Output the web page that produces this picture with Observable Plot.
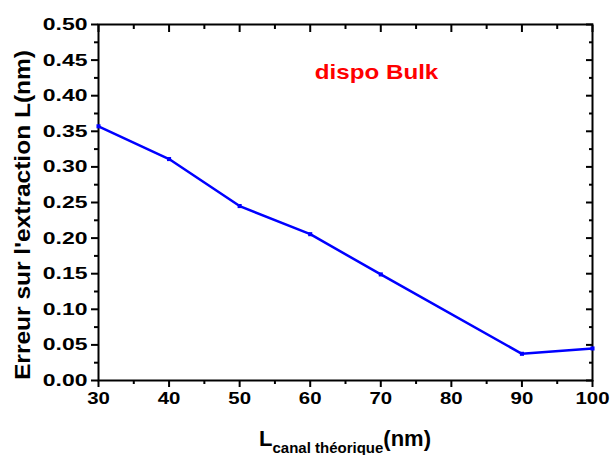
<!DOCTYPE html>
<html><head><meta charset="utf-8">
<script src="https://cdn.jsdelivr.net/npm/d3@7"></script>
<script src="https://cdn.jsdelivr.net/npm/@observablehq/plot@0.6"></script>
<style>
body{margin:0;background:#fff}
svg{display:block}
</style>
</head><body><div id="chart"></div>
<script>
// Data
const canal = [30, 40, 50, 60, 70, 90, 100];             // L canal théorique (nm)
const erreur = [0.357, 0.311, 0.245, 0.2055, 0.149, 0.0375, 0.045]; // erreur (nm)
const xMajor = [30, 40, 50, 60, 70, 80, 90, 100];
const xMinor = [35, 45, 55, 65, 75, 85, 95];
const yMajor = [0, 0.05, 0.10, 0.15, 0.20, 0.25, 0.30, 0.35, 0.40, 0.45, 0.50];
const yMinor = [0.025, 0.075, 0.125, 0.175, 0.225, 0.275, 0.325, 0.375, 0.425, 0.475];
const annotation = [{x: 69.4, y: 0.433, label: "dispo Bulk"}];
const yTitle = "Erreur sur l'extraction L(nm)";
const xTitleMain = "L", xTitleSub = "canal théorique", xTitleUnit = "(nm)";

const data = canal.map((x, i) => ({x, y: erreur[i]}));
const FONT = "'Liberation Sans', Arial, sans-serif";

const common = {label: null, strokeWidth: 2};
const svg = Plot.plot({
  width: 612, height: 455,
  marginLeft: 98, marginRight: 20, marginTop: 24, marginBottom: 75,
  style: {fontFamily: FONT, fontWeight: "bold", color: "black", background: "white", overflow: "visible"},
  x: {domain: [30, 100]},
  y: {domain: [0, 0.5]},
  marks: [
    // bottom axis (outward)
    Plot.axisX(xMajor, {...common, anchor: "bottom", tickSize: 7, tickPadding: 4, fontSize: 17, tickFormat: d => String(d)}),
    Plot.axisX(xMinor, {...common, anchor: "bottom", tickSize: 4, fill: "none"}),
    // top mirror (inward)
    Plot.axisX(xMajor, {...common, anchor: "top", tickSize: 7, dy: 7, fill: "none"}),
    Plot.axisX(xMinor, {...common, anchor: "top", tickSize: 4, dy: 4, fill: "none"}),
    // left axis (outward)
    Plot.axisY(yMajor, {...common, anchor: "left", tickSize: 7, tickPadding: 4, fontSize: 17, tickFormat: d => d.toFixed(2)}),
    Plot.axisY(yMinor, {...common, anchor: "left", tickSize: 4, fill: "none"}),
    // right mirror (inward)
    Plot.axisY(yMajor, {...common, anchor: "right", tickSize: 7, dx: -7, fill: "none"}),
    Plot.axisY(yMinor, {...common, anchor: "right", tickSize: 4, dx: -4, fill: "none"}),
    Plot.frame({stroke: "black", strokeWidth: 2}),
    Plot.line(data, {x: "x", y: "y", stroke: "#0000ff", strokeWidth: 2.5}),
    Plot.dot(data, {x: "x", y: "y", symbol: "square", fill: "#0000ff", r: 2.3}),
    Plot.text(annotation, {x: "x", y: "y", text: "label", fill: "#ff0000", fontSize: 21, fontWeight: "bold", textAnchor: "middle"})
  ]
});
document.getElementById("chart").appendChild(svg);

const s = d3.select(svg);
// Y title
s.append("text")
  .attr("class", "ytitle")
  .attr("transform", "translate(23,215) rotate(-90)")
  .attr("text-anchor", "middle")
  .attr("dominant-baseline", "central")
  .attr("font-family", FONT).attr("font-weight", "bold").attr("font-size", 21.5)
  .attr("fill", "black")
  .text(yTitle);
// X title with subscript
const xt = s.append("text")
  .attr("x", 345).attr("y", 446)
  .attr("text-anchor", "middle")
  .attr("font-family", FONT).attr("font-weight", "bold")
  .attr("fill", "black");
xt.append("tspan").attr("font-size", 22).text(xTitleMain);
xt.append("tspan").attr("font-size", 15).attr("dy", 7).text(xTitleSub);
xt.append("tspan").attr("font-size", 22).attr("dy", -7).text(xTitleUnit);

// Reproduce the wide glyphs of the original
function stretch(sel, f) {
  sel.each(function() {
    const L = this.getComputedTextLength();
    if (L > 0) { this.setAttribute("textLength", L * f); this.setAttribute("lengthAdjust", "spacingAndGlyphs"); }
  });
}
stretch(s.selectAll("g[aria-label='y-axis tick label'] text"), 1.35);
stretch(s.selectAll("g[aria-label='x-axis tick label'] text"), 1.2);
stretch(s.selectAll("g[aria-label='text'] text"), 1.15);
stretch(s.selectAll("text.ytitle"), 1.14);
</script>
</body></html>
